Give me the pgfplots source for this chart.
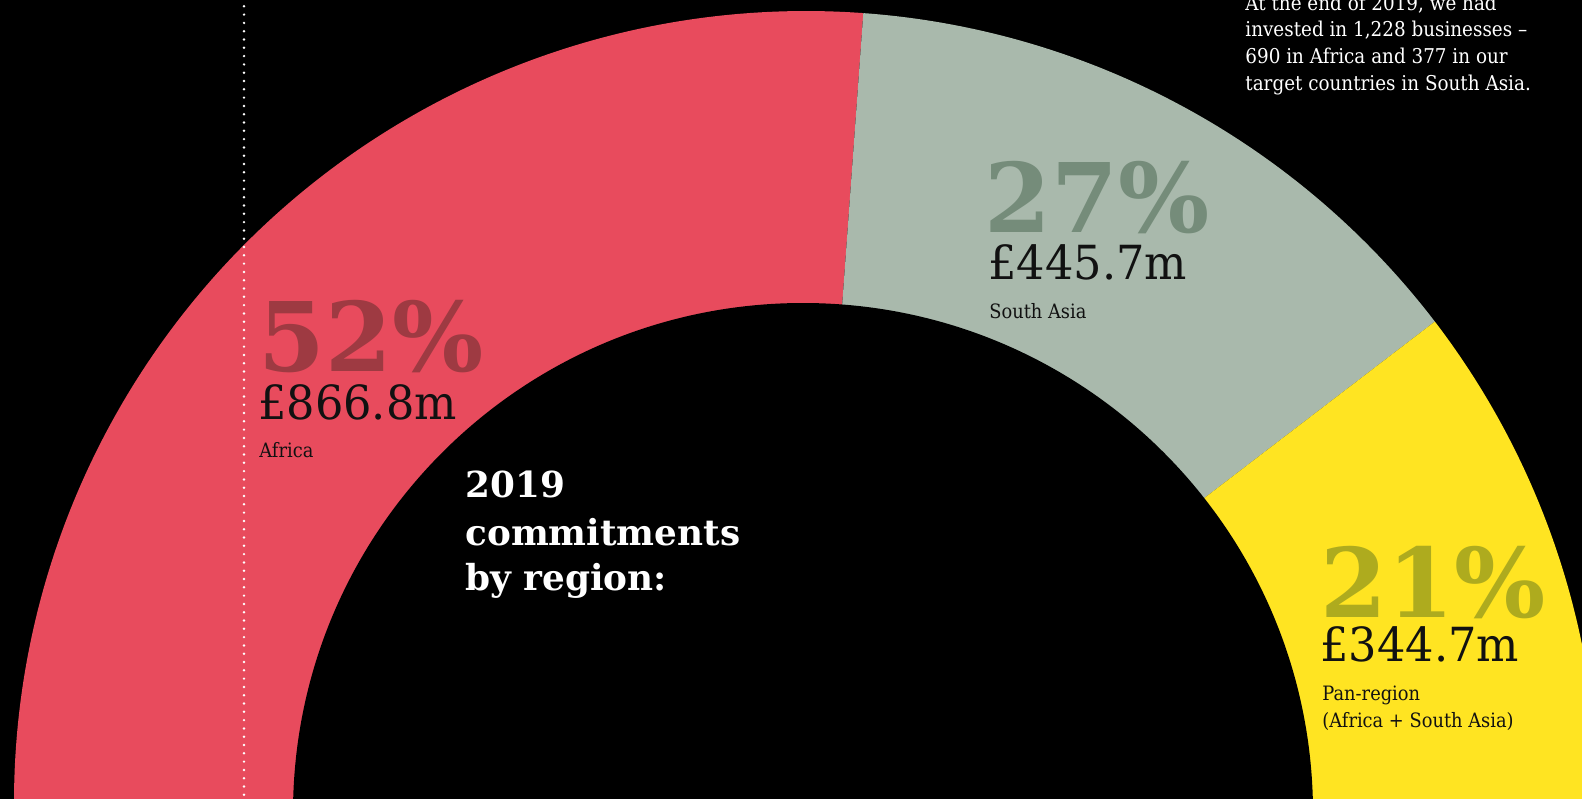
\documentclass[border=0pt]{standalone}
\usepackage{fontspec}
\setmainfont{DejaVu Serif}
\newfontfamily\lightfont[FakeStretch=0.9]{DejaVu Serif}
\newfontfamily\amountfont[FakeStretch=0.95]{DejaVu Serif}
\usepackage{pgfplots}
\usepackage{pgfplotstable}
\pgfplotsset{compat=1.18}
\definecolor{africa}{HTML}{E84B5D}
\definecolor{africaDark}{HTML}{9E3A42}
\definecolor{asia}{HTML}{A9B9AC}
\definecolor{asiaDark}{HTML}{758C7A}
\definecolor{pan}{HTML}{FFE422}
\definecolor{panDark}{HTML}{AEAB1E}
\definecolor{ink}{HTML}{111111}
\pgfplotstableread{
region amount pct
Africa 866.8 52
SouthAsia 445.7 27
PanRegion 344.7 21
}\commitments
\begin{document}
\begin{tikzpicture}
\pgfplotstablegetelem{0}{amount}\of\commitments \let\vA\pgfplotsretval
\pgfplotstablegetelem{1}{amount}\of\commitments \let\vB\pgfplotsretval
\pgfplotstablegetelem{2}{amount}\of\commitments \let\vC\pgfplotsretval
\pgfmathsetmacro\tot{\vA+\vB+\vC}
\pgfmathsetmacro\fA{\vA/\tot}
\pgfmathsetmacro\fB{\vB/\tot}
\pgfmathsetmacro\angA{180-180*\fA}
\pgfmathsetmacro\angB{\angA-180*\fB}
\begin{axis}[scale only axis, width=791pt, height=399pt,
  xmin=0, xmax=1582, ymin=0, ymax=798, y dir=reverse,
  hide axis, clip=true]
\fill[black] (axis cs:-5,-5) rectangle (axis cs:1590,805);
\fill[africa] (axis cs:806,803) -- ++(180:396pt) arc[start angle=180,end angle=\angA,radius=396pt] -- cycle;
\fill[asia] (axis cs:806,803) -- ++(\angA:396pt) arc[start angle=\angA,end angle=\angB,radius=396pt] -- cycle;
\fill[pan] (axis cs:806,803) -- ++(\angB:396pt) arc[start angle=\angB,end angle=0,radius=396pt] -- cycle;
\fill[black] (axis cs:803,813) circle[radius=255pt];
\addplot[white, line width=1.35pt, line cap=round, dash pattern=on 0pt off 4.15pt] coordinates {(244,-2) (244,800)};
% Africa
\node[anchor=base west, inner sep=0pt, text=africaDark, font={\fontsize{48pt}{48pt}\selectfont\bfseries}] at (axis cs:258,371) {52\%};
\node[anchor=base west, inner sep=0pt, text=ink, font={\amountfont\fontsize{23.5pt}{24pt}\selectfont}] at (axis cs:258,419) {£866.8m};
\node[anchor=base west, inner sep=0pt, text=ink, font={\lightfont\fontsize{9.9pt}{12pt}\selectfont}] at (axis cs:259,457) {Africa};
% South Asia
\node[anchor=base west, inner sep=0pt, text=asiaDark, font={\fontsize{48pt}{48pt}\selectfont\bfseries}] at (axis cs:984,232) {27\%};
\node[anchor=base west, inner sep=0pt, text=ink, font={\amountfont\fontsize{23.5pt}{24pt}\selectfont}] at (axis cs:988,279) {£445.7m};
\node[anchor=base west, inner sep=0pt, text=ink, font={\lightfont\fontsize{9.9pt}{12pt}\selectfont}] at (axis cs:989,318) {South Asia};
% Pan-region
\node[anchor=base west, inner sep=0pt, text=panDark, font={\fontsize{48pt}{48pt}\selectfont\bfseries}] at (axis cs:1320,617) {21\%};
\node[anchor=base west, inner sep=0pt, text=ink, font={\amountfont\fontsize{23.5pt}{24pt}\selectfont}] at (axis cs:1320,661) {£344.7m};
\node[anchor=base west, inner sep=0pt, text=ink, font={\lightfont\fontsize{9.9pt}{12pt}\selectfont}] at (axis cs:1322,700) {Pan-region};
\node[anchor=base west, inner sep=0pt, text=ink, font={\lightfont\fontsize{9.9pt}{12pt}\selectfont}] at (axis cs:1322,727) {(Africa + South Asia)};
% centre title
\node[anchor=base west, inner sep=0pt, text=white, font={\fontsize{17.9pt}{18pt}\selectfont\bfseries}] at (axis cs:465,497) {2019};
\node[anchor=base west, inner sep=0pt, text=white, font={\fontsize{17.9pt}{18pt}\selectfont\bfseries}] at (axis cs:465,545) {commitments};
\node[anchor=base west, inner sep=0pt, text=white, font={\fontsize{17.9pt}{18pt}\selectfont\bfseries}] at (axis cs:465,590) {by region:};
% top-right paragraph
\node[anchor=base west, inner sep=0pt, text=white, font={\lightfont\fontsize{10.2pt}{12pt}\selectfont}] at (axis cs:1245,10) {At the end of 2019, we had};
\node[anchor=base west, inner sep=0pt, text=white, font={\lightfont\fontsize{10.2pt}{12pt}\selectfont}] at (axis cs:1245,36) {invested in 1,228 businesses –};
\node[anchor=base west, inner sep=0pt, text=white, font={\lightfont\fontsize{10.2pt}{12pt}\selectfont}] at (axis cs:1245,63) {690 in Africa and 377 in our};
\node[anchor=base west, inner sep=0pt, text=white, font={\lightfont\fontsize{10.2pt}{12pt}\selectfont}] at (axis cs:1245,90) {target countries in South Asia.};
\end{axis}
\pgfresetboundingbox
\path[use as bounding box] (current axis.south west) rectangle (current axis.north east);
\end{tikzpicture}
\end{document}
